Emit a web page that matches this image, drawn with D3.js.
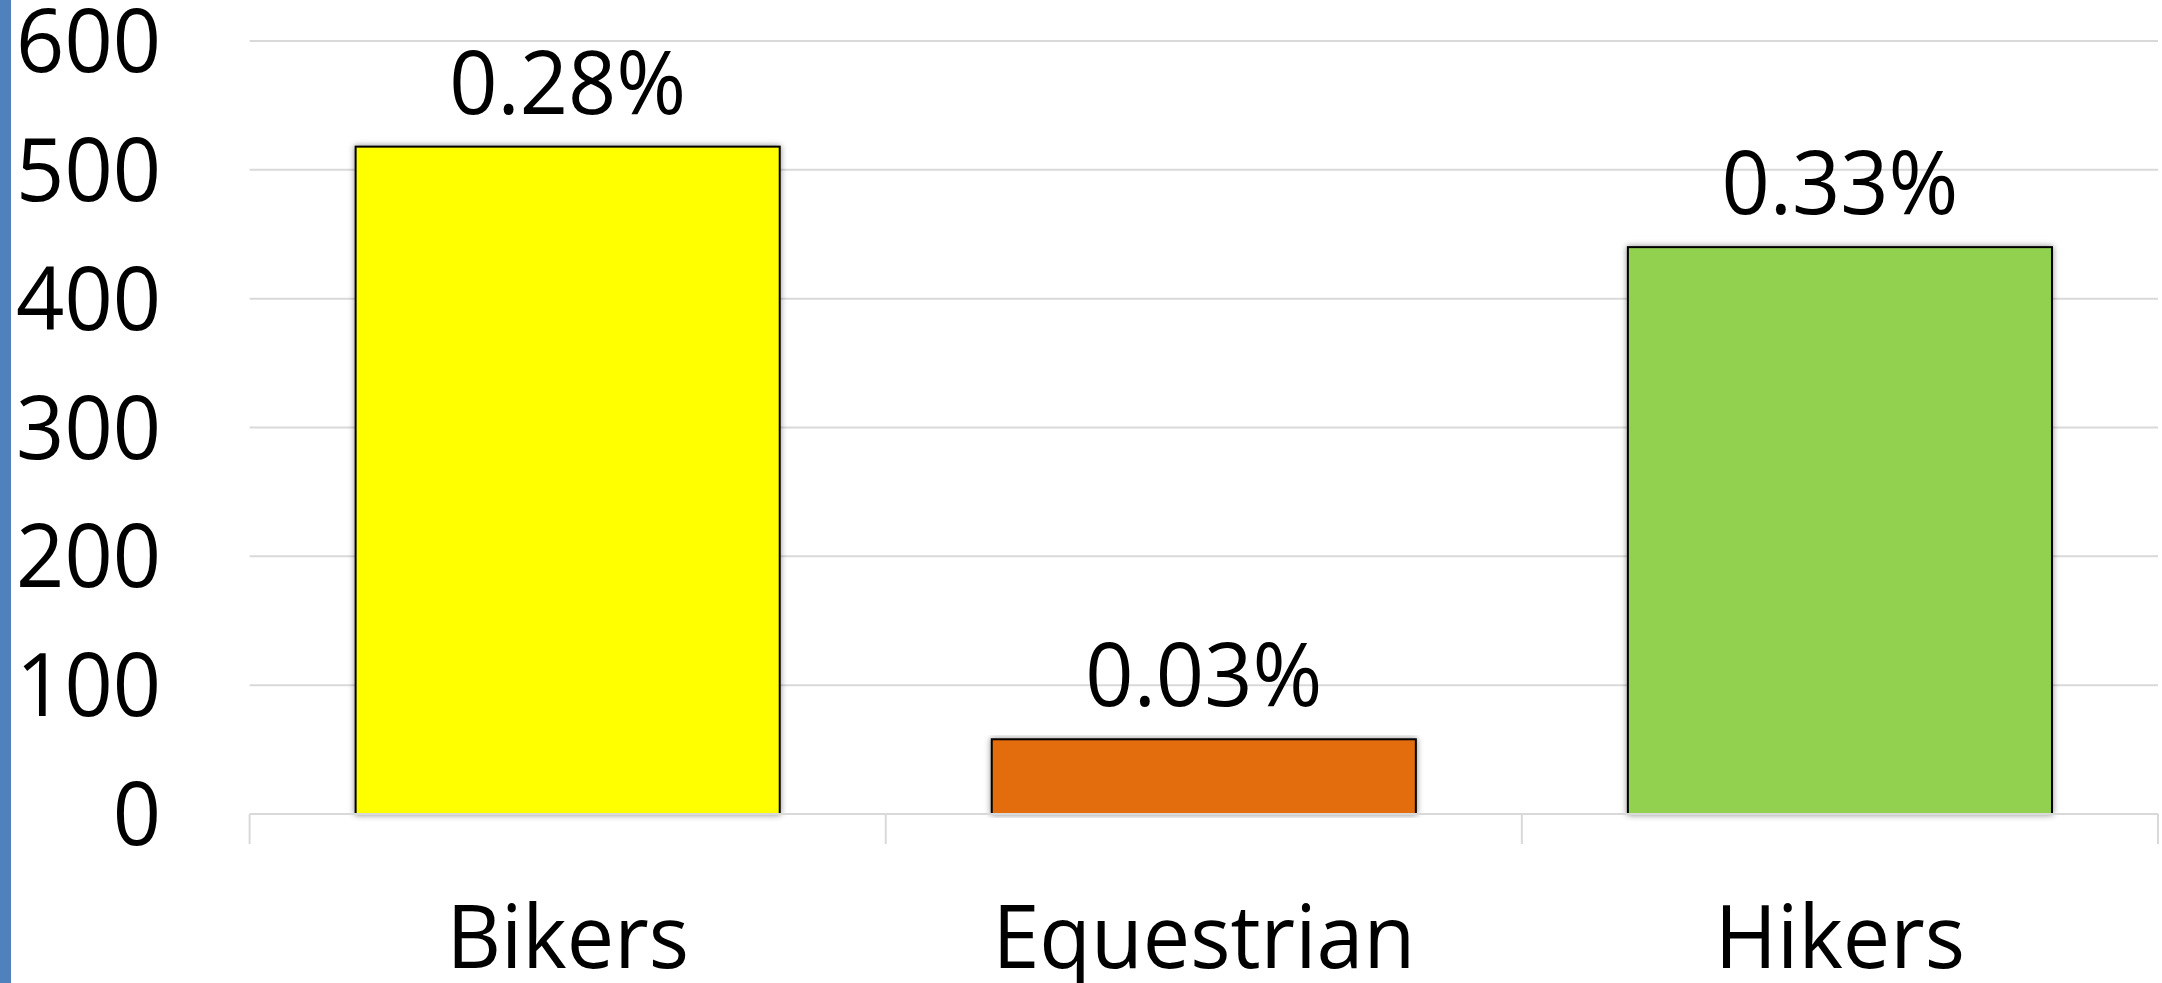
<!DOCTYPE html>
<html>
<head>
<meta charset="utf-8">
<script src="https://cdnjs.cloudflare.com/ajax/libs/d3/7.8.5/d3.min.js"></script>
<style>
  html, body { margin: 0; padding: 0; background: #ffffff; }
  svg { display: block; }
  text { font-family: "Open Sans", "Noto Sans", sans-serif; fill: #000000; }
</style>
</head>
<body>
<svg id="chart" width="2162" height="983"></svg>
<script>
// ---- data ----
const categories = ["Bikers", "Equestrian", "Hikers"];
const values = [518, 58, 440];
const percentLabels = ["0.28%", "0.03%", "0.33%"];
const barColors = ["#ffff00", "#e36c0a", "#92d050"];
const yTicks = [0, 100, 200, 300, 400, 500, 600];

// ---- layout ----
const W = 2162, H = 983;
const plotLeft = 249.6, plotRight = 2158, yTop = 41, yZero = 814;
const fontSize = 88;
const squeeze = 0.96;

const svg = d3.select("#chart");

const defs = svg.append("defs");
const f = defs.append("filter").attr("id", "shadow")
  .attr("x", "-5%").attr("y", "-5%").attr("width", "110%").attr("height", "110%");
f.append("feDropShadow").attr("dx", 0).attr("dy", 0).attr("stdDeviation", 3)
  .attr("flood-color", "#000").attr("flood-opacity", 0.45);

// left blue strip
svg.append("rect").attr("x", 0).attr("y", 0).attr("width", 11).attr("height", H).attr("fill", "#4f81bd");

const x = d3.scaleBand().domain(categories).range([plotLeft, plotRight])
  .paddingInner(1 / 3).paddingOuter(1 / 6);
const y = d3.scaleLinear().domain([0, 600]).range([yZero, yTop]);

// gridlines
svg.append("g").selectAll("line").data(yTicks.filter(d => d > 0)).join("line")
  .attr("x1", plotLeft).attr("x2", plotRight)
  .attr("y1", d => y(d)).attr("y2", d => y(d))
  .attr("stroke", "#d9d9d9").attr("stroke-width", 2);

// y labels
svg.append("g").selectAll("text").data(yTicks).join("text")
  .attr("transform", d => `translate(161,${y(d) + 31}) scale(${squeeze},1)`)
  .attr("text-anchor", "end")
  .attr("font-size", fontSize)
  .text(d => d);

// bars
svg.append("g").selectAll("rect").data(values).join("rect")
  .attr("x", (d, i) => x(categories[i]))
  .attr("width", x.bandwidth())
  .attr("y", d => y(d))
  .attr("height", d => yZero - y(d))
  .attr("fill", (d, i) => barColors[i])
  .attr("stroke", "#000").attr("stroke-width", 2)
  .attr("filter", "url(#shadow)");

// x axis line + ticks
svg.append("line").attr("x1", plotLeft).attr("x2", plotRight)
  .attr("y1", yZero).attr("y2", yZero).attr("stroke", "#d9d9d9").attr("stroke-width", 2);
const tickXs = categories.map(c => x(c) - x.step() * x.paddingInner() / 2);
tickXs.push(plotRight);
svg.append("g").selectAll("line").data(tickXs).join("line")
  .attr("x1", d => d).attr("x2", d => d)
  .attr("y1", yZero).attr("y2", yZero + 30)
  .attr("stroke", "#d9d9d9").attr("stroke-width", 2);

// data labels
svg.append("g").selectAll("text").data(values).join("text")
  .attr("transform", (d, i) => `translate(${x(categories[i]) + x.bandwidth() / 2},${y(d) - 33}) scale(${squeeze},1)`)
  .attr("text-anchor", "middle")
  .attr("font-size", fontSize)
  .text((d, i) => percentLabels[i]);

// category labels
svg.append("g").selectAll("text").data(categories).join("text")
  .attr("transform", d => `translate(${x(d) + x.bandwidth() / 2},968) scale(${squeeze},1)`)
  .attr("text-anchor", "middle")
  .attr("font-size", fontSize)
  .text(d => d);
</script>
</body>
</html>
